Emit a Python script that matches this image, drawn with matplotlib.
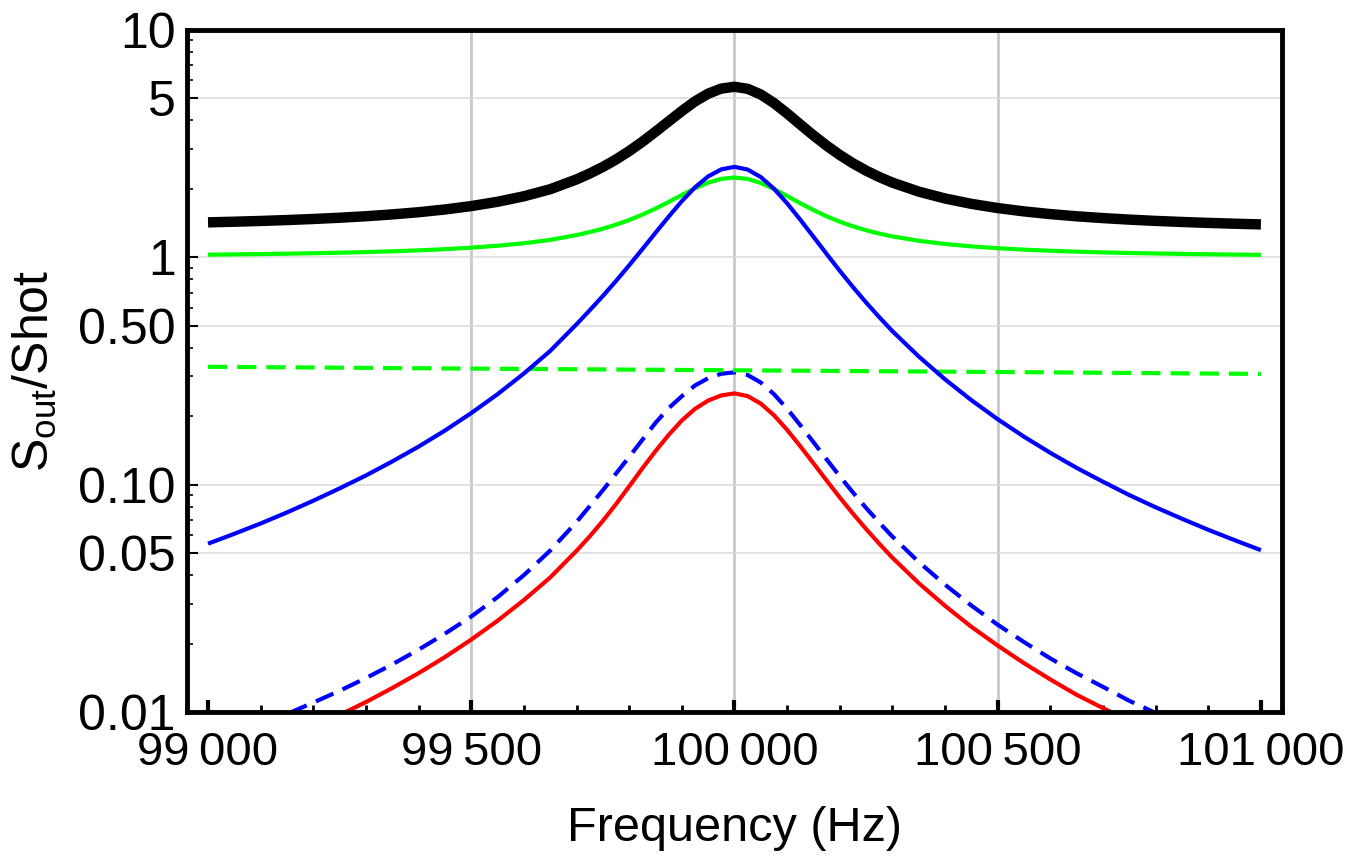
import matplotlib
matplotlib.use("Agg")
import matplotlib.pyplot as plt
from matplotlib.ticker import FixedLocator, FixedFormatter, NullFormatter

plt.rcParams['font.family'] = ['Liberation Sans', 'DejaVu Sans']
plt.rcParams['mathtext.fontset'] = 'custom'
plt.rcParams['mathtext.rm'] = 'Liberation Sans'

# frequencies (Hz)
freq = [99000, 99050, 99100, 99150, 99200, 99250, 99300, 99350, 99400, 99450,
        99500, 99550, 99600, 99650, 99700,
        99725, 99750, 99775, 99800, 99825, 99850, 99875, 99900, 99925, 99950, 99975,
        100000, 100025, 100050, 100075, 100100, 100125, 100150, 100175, 100200, 100225,
        100250, 100275,
        100300, 100350, 100400, 100450, 100500, 100550, 100600, 100650, 100700, 100750,
        100800, 100850, 100900, 100950, 101000]

total = [1.4250, 1.4345, 1.4456, 1.4588, 1.4746, 1.4934, 1.5163, 1.5445, 1.5792, 1.6235,
         1.6807, 1.7554, 1.8560, 1.9934, 2.2019,
         2.3373, 2.4978, 2.6941, 2.9335, 3.2231, 3.5686, 3.9641, 4.4013, 4.8518, 5.2472, 5.5247,
         5.6275, 5.5123, 5.2033, 4.7714, 4.2958, 3.8405, 3.4403, 3.1004, 2.8200, 2.5918,
         2.4063, 2.2556,
         2.1312, 1.9458, 1.8147, 1.7189, 1.6472, 1.5923, 1.5494, 1.5152, 1.4881, 1.4650,
         1.4463, 1.4306, 1.4173, 1.4059, 1.3957]

green_solid = [1.0274, 1.0303, 1.0336, 1.0376, 1.0423, 1.0479, 1.0547, 1.0630, 1.0732, 1.0862,
               1.1028, 1.1245, 1.1535, 1.1930, 1.2527,
               1.2912, 1.3366, 1.3919, 1.4594, 1.5410, 1.6386, 1.7519, 1.8793, 2.0119, 2.1302, 2.2139,
               2.2450, 2.2118, 2.1226, 1.9979, 1.8605, 1.7291, 1.6135, 1.5154, 1.4345, 1.3686,
               1.3151, 1.2717,
               1.2358, 1.1824, 1.1447, 1.1172, 1.0966, 1.0809, 1.0687, 1.0590, 1.0513, 1.0448,
               1.0396, 1.0352, 1.0315, 1.0284, 1.0256]

blue_solid = [0.0550, 0.0608, 0.0675, 0.0755, 0.0850, 0.0963, 0.1098, 0.1265, 0.1470, 0.1730,
              0.2065, 0.2500, 0.3083, 0.3875, 0.5075,
              0.5848, 0.6760, 0.7870, 0.9225, 1.0863, 1.2823, 1.5098, 1.7658, 2.0320, 2.2695, 2.4375,
              2.5000, 2.4333, 2.2543, 2.0038, 1.7280, 1.4640, 1.2320, 1.0350, 0.8725, 0.7403,
              0.6328, 0.5455,
              0.4735, 0.3663, 0.2905, 0.2353, 0.1940, 0.1625, 0.1380, 0.1185, 0.1030, 0.0900,
              0.0795, 0.0708, 0.0633, 0.0570, 0.0515]

blue_dashed = [0.0071, 0.0079, 0.0088, 0.0098, 0.0110, 0.0124, 0.0141, 0.0162, 0.0188, 0.0221,
               0.0263, 0.0320, 0.0400, 0.0513, 0.0685,
               0.0804, 0.0945, 0.1119, 0.1325, 0.1574, 0.1870, 0.2170, 0.2450, 0.2730, 0.2940, 0.3075,
               0.3120, 0.3037, 0.2813, 0.2501, 0.2157, 0.1827, 0.1538, 0.1292, 0.1089, 0.0924,
               0.0790, 0.0681,
               0.0591, 0.0457, 0.0363, 0.0294, 0.0242, 0.0203, 0.0172, 0.0148, 0.0129, 0.0112,
               0.0099, 0.0088, 0.0079, 0.0071, 0.0064]

red_solid = [0.00554, 0.00612, 0.00680, 0.00761, 0.00857, 0.00970, 0.01106, 0.01275, 0.01482, 0.01744,
             0.02082, 0.02520, 0.03107, 0.03906, 0.05116,
             0.05922, 0.06930, 0.08215, 0.09828, 0.11794, 0.14050, 0.16550, 0.19152, 0.21546, 0.23436, 0.24696,
             0.25200, 0.24530, 0.22720, 0.20200, 0.17420, 0.14760, 0.12420, 0.10430, 0.08790, 0.07460,
             0.06380, 0.05500,
             0.04770, 0.03690, 0.02930, 0.02370, 0.01960, 0.01640, 0.01390, 0.01190, 0.01040, 0.00910,
             0.00800, 0.00710, 0.00640, 0.00570, 0.00520]

green_dashed_freq = [99000, 99500, 100000, 100500, 101000]
green_dashed = [0.330, 0.324, 0.3185, 0.313, 0.307]

xticks = [99000, 99500, 100000, 100500, 101000]
xticklabels = ['99\u2009000', '99\u2009500', '100\u2009000', '100\u2009500', '101\u2009000']
yticks = [0.01, 0.05, 0.1, 0.5, 1, 5, 10]
yticklabels = ['0.01', '0.05', '0.10', '0.50', '1', '5', '10']
grid_x = [99500, 100000, 100500]
grid_y = [0.05, 0.1, 0.5, 1, 5]

fig = plt.figure(figsize=(13.51, 8.67), dpi=100)
ax = fig.add_axes([0.1384, 0.1788, 0.8105, 0.7866])
ax.set_yscale('log')

for gx in grid_x:
    ax.axvline(gx, color='#c8c8c8', lw=2.0, zorder=0)
for gy in grid_y:
    ax.axhline(gy, color='#dadada', lw=1.1, zorder=0)

ax.plot(freq, red_solid, color='#ff0000', lw=3.0, solid_capstyle='butt', zorder=2)
ax.plot(freq, blue_dashed, color='#0000ff', lw=3.0, dashes=(4.6, 2.4), zorder=3)
ax.plot(green_dashed_freq, green_dashed, color='#00ff00', lw=3.0, dashes=(4.6, 2.4), zorder=4)
ax.plot(freq, green_solid, color='#00ff00', lw=3.0, solid_capstyle='butt', zorder=5)
ax.plot(freq, blue_solid, color='#0000ff', lw=3.0, solid_capstyle='butt', zorder=6)
ax.plot(freq, total, color='black', lw=7.5, solid_capstyle='butt', zorder=7)

ax.set_xlim(98960, 101040)
ax.set_ylim(0.01, 10)

ax.xaxis.set_major_locator(FixedLocator(xticks))
ax.xaxis.set_major_formatter(FixedFormatter(xticklabels))
ax.xaxis.set_minor_locator(FixedLocator(range(99000, 101001, 100)))
ax.yaxis.set_major_locator(FixedLocator(yticks))
ax.yaxis.set_major_formatter(FixedFormatter(yticklabels))
minor_y = [m * 10.0 ** e for e in (-2, -1, 0) for m in range(2, 10)]
ax.yaxis.set_minor_locator(FixedLocator(minor_y))
ax.yaxis.set_minor_formatter(NullFormatter())

ax.tick_params(axis='both', which='both', direction='in', top=False, right=False, colors='black')
ax.tick_params(axis='x', which='major', length=9, width=3.0, labelsize=34, pad=14)
ax.tick_params(axis='x', which='minor', length=5, width=2.0)
ax.tick_params(axis='y', which='major', length=8, width=1.5, labelsize=36, pad=8)
ax.tick_params(axis='y', which='minor', length=4, width=1.2)

for s in ax.spines.values():
    s.set_linewidth(3.5)
    s.set_zorder(10)

ax.set_xlabel('Frequency (Hz)', fontsize=35, labelpad=22)
ax.set_ylabel(r'S$_{\mathregular{out}}$/Shot', fontsize=36, labelpad=14)

fig.savefig('out.png', dpi=100)
